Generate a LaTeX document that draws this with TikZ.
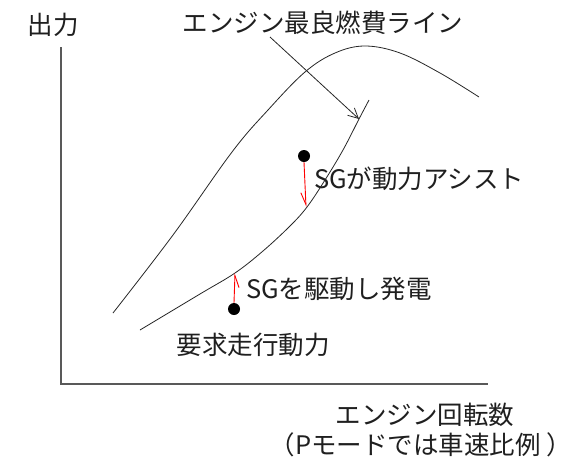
\documentclass[tikz,border=0pt]{standalone}
\usepackage{fontspec}
\setmainfont{Noto Sans CJK JP}
\usetikzlibrary{arrows.meta}
\tikzset{
  lbl/.style={font=\fontsize{25.5}{27}\selectfont, text=black!88, inner sep=0pt},
  axisline/.style={draw=black!65, line width=1.4pt},
  curveline/.style={draw=black!85, line width=0.8pt},
  redarrow/.style={draw=red, line width=0.9pt, -{Straight Barb[right,length=12pt,width=9pt]}},
  dotmark/.style={circle, fill=black, inner sep=0pt, minimum size=12pt},
}
\begin{document}
\begin{tikzpicture}[x=1pt,y=-1pt]
\useasboundingbox (0,0) rectangle (575,469);
% axes
\coordinate (origin) at (61,384);
\coordinate (ytop) at (61,47);
\coordinate (xend) at (488,384);
\draw[axisline] (ytop) -- (origin) -- (xend);
% labels
\node[lbl] (ylab) at (53,25) {出力};
\node[lbl] (title) at (323,23) {エンジン最良燃費ライン};
\node[lbl, anchor=west] (assist) at (314,179) {SGが動力アシスト};
\node[lbl, anchor=west] (gen) at (246,289) {SGを駆動し発電};
\node[lbl] (req) at (253,345) {要求走行動力};
\node[lbl] (xlab) at (425,415) {エンジン回転数};
\node[lbl] (xlab2) at (421,445) {（Pモードでは車速比例 ）};
% upper curve
\draw[curveline] plot[smooth, tension=0.6] coordinates {(113,313) (173,235) (232,152) (268,110) (305,72) (335,53) (365,46) (400,53) (440,73) (479,97)};
% lower curve (best fuel economy line)
\draw[curveline] plot[smooth, tension=0.6] coordinates {(140,330) (200,294) (235,273) (263,251) (290,226) (307,207) (325,180) (343,150) (359,119) (369,100)};
% pointer
\coordinate (pstart) at (270,37);
\coordinate (ptip) at (359,119);
\draw[curveline, -{Straight Barb[length=10pt,width=10pt]}] (pstart) -- (ptip);
% dots and red arrows
\node[dotmark] (d1) at (304,156) {};
\coordinate (t1) at (306,207);
\draw[redarrow] (d1.south) -- (t1);
\node[dotmark] (d2) at (234,309) {};
\coordinate (t2) at (235,273);
\draw[redarrow] (d2.north) -- (t2);
\end{tikzpicture}
\end{document}
